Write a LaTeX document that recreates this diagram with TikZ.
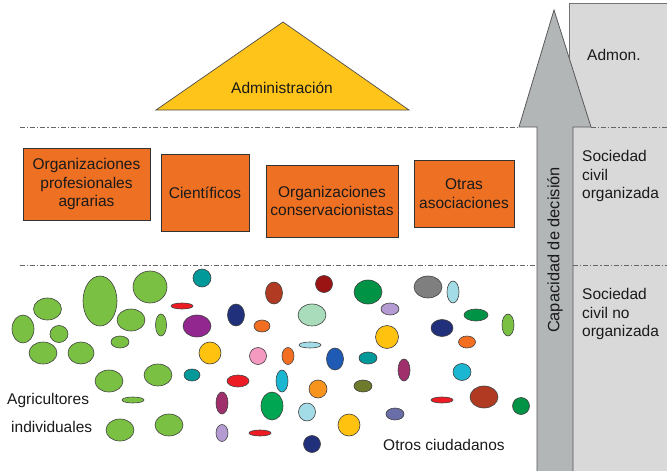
\documentclass[tikz,border=0pt]{standalone}
\usepackage{fontspec}
\setmainfont{Liberation Sans}
\definecolor{gA}{HTML}{7AC143}
\definecolor{teal2}{HTML}{00999A}
\definecolor{red2}{HTML}{ED1C24}
\definecolor{purple2}{HTML}{92278F}
\definecolor{navy2}{HTML}{21307A}
\definecolor{gold2}{HTML}{FFC20E}
\definecolor{magenta2}{HTML}{A0306C}
\definecolor{lav2}{HTML}{B49BD2}
\definecolor{brick2}{HTML}{B03A22}
\definecolor{dred2}{HTML}{9B1414}
\definecolor{orange2}{HTML}{F26F21}
\definecolor{orange3}{HTML}{F7941D}
\definecolor{mint2}{HTML}{A8DCBA}
\definecolor{lblue2}{HTML}{A3DCE6}
\definecolor{pink2}{HTML}{F49AC1}
\definecolor{blue2}{HTML}{1F5AB4}
\definecolor{dgreen2}{HTML}{009245}
\definecolor{mgreen2}{HTML}{00A651}
\definecolor{gray2}{HTML}{7F7F7F}
\definecolor{cyan2}{HTML}{1BB6D2}
\definecolor{olive2}{HTML}{6E7B2C}
\definecolor{slate2}{HTML}{6A6EA8}
\definecolor{boxorange}{HTML}{EE7023}
\definecolor{trigold}{HTML}{FFC41A}
\definecolor{arrowgray}{HTML}{B3B6B7}
\definecolor{panelgray}{HTML}{D9D9D9}
\definecolor{txt}{HTML}{1A1A1A}
\begin{document}
\begin{tikzpicture}[x=1pt,y=-1pt,
  every node/.style={font=\fontsize{15.5}{18.5}\selectfont, text=txt, inner sep=0pt},
  blob/.style={draw=black!75, line width=0.6pt},
  orgbox/.style={draw=black!80, line width=0.8pt, fill=boxorange, align=center},
  sepline/.style={draw=black!60, line width=0.8pt, dash pattern=on 5pt off 2pt on 1.2pt off 2pt},
  sidelabel/.style={anchor=west, align=left}]
\useasboundingbox (0,0) rectangle (667,471);
% right panel
\fill[panelgray] (569,3) rectangle (667,471);
\draw[black!55, line width=0.8pt] (569,471) -- (569,3) -- (667,3);
% separator lines
\draw[sepline] (20,127) -- (519,127);
\draw[sepline] (591,127) -- (667,127);
\draw[sepline] (20,265) -- (537,265);
\draw[sepline] (573,265) -- (667,265);
% arrow
\fill[arrowgray] (537,471) -- (537,127) -- (519,127) -- (554,10) -- (591,127) -- (573,127) -- (573,471) -- cycle;
\draw[black!65, line width=0.8pt] (537,471) -- (537,127) -- (519,127) -- (554,10) -- (591,127) -- (573,127) -- (573,471);
\node[rotate=90, font=\fontsize{16.4}{19}\selectfont] (cap) at (555,250) {Capacidad de decisión};
% triangle
\filldraw[fill=trigold, draw=black!70, line width=0.7pt] (283,22) -- (409,110) -- (156,110) -- cycle;
\node (adm) at (282,88) {Administración};
% side labels
\node[sidelabel] (admon) at (587,55) {Admon.};
\node[sidelabel] (sco) at (582,176) {Sociedad\\civil\\organizada};
\node[sidelabel] (scno) at (582,314) {Sociedad\\civil no\\organizada};
% boxes
\node[orgbox, minimum width=127pt, minimum height=72pt] (opa) at (86.5,184) {Organizaciones\\profesionales\\agrarias};
\node[orgbox, minimum width=88pt, minimum height=77pt] (cie) at (205,192.5) {Científicos};
\node[orgbox, minimum width=132pt, minimum height=72pt] (oc) at (332,201) {Organizaciones\\conservacionistas};
\node[orgbox, minimum width=100pt, minimum height=67pt] (oa) at (464,193.5) {Otras\\asociaciones};
% blobs
\foreach \x/\y/\a/\b/\c in {
 23/329/11/14/gA, 47.5/309/14/11/gA, 59/334/9/8.5/gA, 43/353/14/11/gA, 81/353/13/11/gA,
 100/301/17/25/gA, 150/287/17/16/gA, 131/320/14/11/gA, 120/342/9/6/gA, 161/325/5.5/11/gA,
 109/381/14/11/gA, 158/375/14/11/gA, 133/400/11/3/gA, 120/430/14/11/gA, 169/425/14/11/gA,
 202/278/9/9/teal2, 182/306/11/3/red2, 197/326/14/11/purple2, 236/315/8.5/11/navy2,
 210/353/11/11/gold2, 192/375/8/6/teal2, 238/381/11/6/red2, 222/403/6/11/magenta2,
 222/433/6/8.5/lav2, 260/433/11/3/red2, 274/293/8.5/11/brick2, 324/284/8.5/8.5/dred2,
 262/326/8/6/orange2, 312/315/14/11/mint2, 310/345/11/3/lblue2, 258/356/8.5/8.5/pink2,
 288/356/6/8.5/orange2, 335/359/8.5/11/blue2, 368/292/14/12/dgreen2, 428/287/14/11/gray2,
 453/292/6/11/lblue2, 390/309/9/6/lav2, 476/315/12/6/dgreen2, 508/325/6/11/gA,
 442/328/11/8.5/navy2, 387/337/11.5/11.5/gold2, 467/342/8.5/6/orange2, 368/358/9/6/teal2,
 404/370/6/11/magenta2, 462/372/9/8.5/cyan2, 282/381/6/11/cyan2, 318/389/9/9/orange3,
 363/386/9/6/olive2, 272/406/11/14/mgreen2, 307/412/8.5/9/lblue2, 349/425/11/11/gold2,
 395/414/9/6/slate2, 442/400/11/3/red2, 484/397/14/11/brick2, 521/406/8.5/8.5/dgreen2,
 312/444/8.5/8.5/navy2}
 \filldraw[blob, fill=\c] (\x,\y) ellipse [x radius=\a, y radius=\b];
% group labels
\node[anchor=west] (agr1) at (7,400) {Agricultores};
\node[anchor=west] (agr2) at (11,427) {individuales};
\node[anchor=west] (otros) at (383,445) {Otros ciudadanos};
\end{tikzpicture}
\end{document}
